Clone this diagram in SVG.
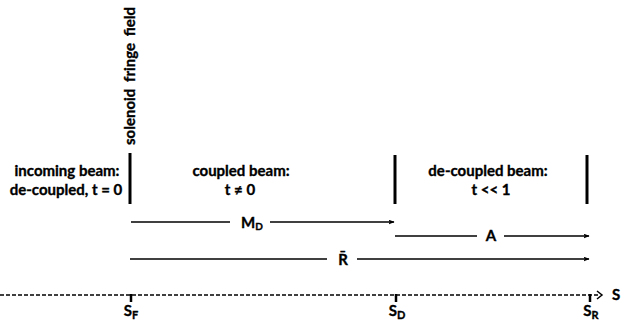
<svg xmlns="http://www.w3.org/2000/svg" width="621" height="330" viewBox="0 0 621 330">
<style>
text{font-family:Lato,"Liberation Sans",sans-serif;font-weight:bold;fill:#000;stroke:#000;stroke-width:0.35;}
.lbl{font-size:15px;text-anchor:middle;}
.bar{stroke:#000;stroke-width:3;}
.arr{stroke:#000;stroke-width:1.5;fill:none;marker-end:url(#ah);}
.axis{stroke:#000;stroke-width:1.3;stroke-dasharray:4 2;fill:none;}
.tick{stroke:#000;stroke-width:2.5;}
</style>
<defs>
<marker id="ah" viewBox="0 0 10 8" refX="9" refY="4" markerWidth="6" markerHeight="5" markerUnits="userSpaceOnUse" orient="auto">
<path d="M0,0 L10,4 L0,8 L2,4 z" fill="#000"/>
</marker>
</defs>
<rect width="621" height="330" fill="#fff"/>
<g id="fringe">
<line class="bar" x1="130" y1="153" x2="130" y2="204"/>
<text class="lbl" transform="translate(135,76) rotate(-90)" word-spacing="3">solenoid fringe field</text>
</g>
<g id="incoming">
<text class="lbl" x="67" y="176">incoming beam:</text>
<text class="lbl" x="66" y="195">de-coupled, t = 0</text>
</g>
<g id="coupled">
<text class="lbl" x="241" y="176">coupled beam:</text>
<text class="lbl" x="240" y="195">t ≠ 0</text>
</g>
<g id="sd-bar"><line class="bar" x1="395" y1="155" x2="395" y2="204"/></g>
<g id="decoupled">
<text class="lbl" x="488" y="176">de-coupled beam:</text>
<text class="lbl" x="491" y="195">t &lt;&lt; 1</text>
</g>
<g id="sr-bar"><line class="bar" x1="587" y1="155" x2="587" y2="204"/></g>
<g id="connectors">
<line class="arr" x1="131" y1="222" x2="230" y2="222" style="marker-end:none"/>
<line class="arr" x1="270" y1="222" x2="394" y2="222"/>
<line class="arr" x1="395" y1="236" x2="477" y2="236" style="marker-end:none"/>
<line class="arr" x1="504" y1="236" x2="589" y2="236"/>
<line class="arr" x1="130" y1="259" x2="327" y2="259" style="marker-end:none"/>
<line class="arr" x1="357" y1="259" x2="589" y2="259"/>
<line class="axis" x1="0" y1="295" x2="600" y2="295"/>
<path d="M597,291 L602,295 L597,299" stroke="#000" stroke-width="1.5" fill="none"/>
<line class="tick" x1="131" y1="294" x2="131" y2="302"/>
<line class="tick" x1="396" y1="294" x2="396" y2="302"/>
<line class="tick" x1="590" y1="294" x2="590" y2="302"/>
</g>
<g id="labels">
<text class="lbl" x="252" y="228">M<tspan font-size="10" dy="2">D</tspan></text>
<text class="lbl" x="491" y="241">A</text>
<text class="lbl" x="343" y="265">R̄</text>
<text class="lbl" x="612" y="300" style="text-anchor:start">S</text>
<text class="lbl" x="131" y="316">S<tspan font-size="11" dy="3">F</tspan></text>
<text class="lbl" x="397" y="316">S<tspan font-size="11" dy="3">D</tspan></text>
<text class="lbl" x="591" y="316">S<tspan font-size="11" dy="3">R</tspan></text>
</g>
</svg>
